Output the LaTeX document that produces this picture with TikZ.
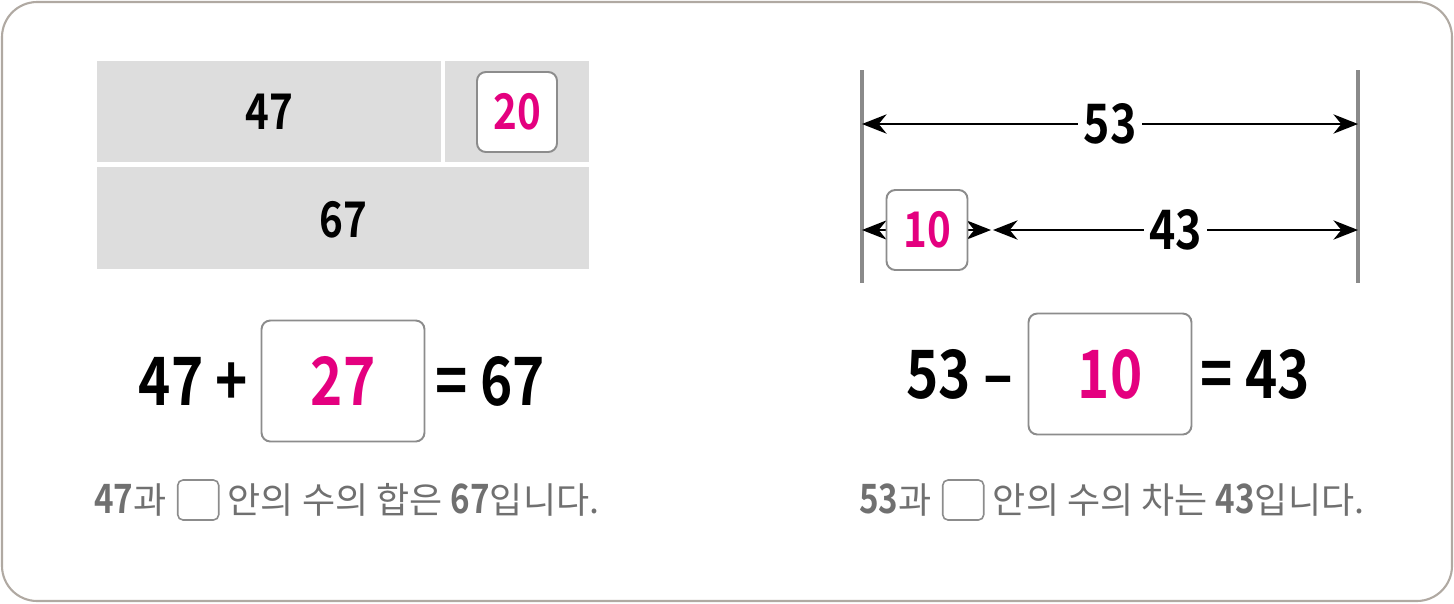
\documentclass[tikz,border=0pt]{standalone}
\usepackage{fontspec}
\setmainfont{Noto Sans CJK KR}[BoldFont=* Bold, BoldFeatures={FakeStretch=0.82}]
\usepackage{xcolor}
\usetikzlibrary{positioning, arrows.meta}
\definecolor{barfill}{HTML}{DDDDDD}
\definecolor{answer}{HTML}{E4007F}
\definecolor{framegray}{HTML}{B0A9A2}
\definecolor{boxgray}{HTML}{8C8C8C}
\definecolor{textgray}{HTML}{707070}
\definecolor{rulegray}{HTML}{8A8A8A}

\begin{document}
\begin{tikzpicture}[x=0.02cm, y=-0.02cm,
    barlabel/.style={font=\fontsize{28}{30}\selectfont\bfseries, inner sep=0pt},
    ansbox/.style={draw=boxgray, line width=1.1pt, fill=white, rounded corners=5pt, inner sep=0pt,
      text=answer, font=\fontsize{28}{30}\selectfont\bfseries},
    bigbox/.style={ansbox, minimum width=3.26cm, minimum height=2.42cm, font=\fontsize{38}{40}\selectfont\bfseries},
    eqtext/.style={font=\fontsize{38}{40}\selectfont\bfseries, inner sep=0pt},
    sent/.style={text=textgray, font=\fontsize{20.5}{24}\selectfont, inner sep=0pt},
    tinybox/.style={draw=boxgray, line width=0.9pt, rounded corners=3pt, minimum width=0.82cm, minimum height=0.8cm, inner sep=0pt},
    dimline/.style={line width=1.1pt, {Stealth[length=14pt, width=11pt, inset=4.5pt]}-{Stealth[length=14pt, width=11pt, inset=4.5pt]}},
    endrule/.style={rulegray, line width=2.3pt}]
  \useasboundingbox (0,0) rectangle (1454,603);
  \draw[framegray, line width=1.2pt, rounded corners=20pt] (2,2) rectangle (1452,601);

  % Bar model (left)
  \fill[barfill] (97,61) rectangle (441,162);
  \fill[barfill] (445,61) rectangle (589,162);
  \fill[barfill] (97,167) rectangle (589,269);
  \node[barlabel] (part47) at (269,112) {47};
  \node[ansbox, minimum width=1.6cm, minimum height=1.6cm] (part20) at (517,112) {20};
  \node[barlabel] (whole67) at (343,220) {67};

  % Equation (left)
  \node[bigbox] (addbox) at (343,381) {27};
  \node[eqtext, left=0.24cm of addbox] (addleft) {47 +};
  \node[eqtext, right=0.2cm of addbox] (addright) {= 67};

  % Sentence (left)
  \node[sent, anchor=west] (sumA) at (94,500) {\textbf{\fontsize{23}{24}\selectfont 47}과};
  \node[tinybox, right=0.2cm of sumA] (sumbox) {};
  \node[sent, right=0.16cm of sumbox] (sumB) {안의 수의 합은 \textbf{\fontsize{23}{24}\selectfont 67}입니다.};

  % Number line model (right)
  \coordinate (ruleLtop) at (862,70);
  \coordinate (ruleLbot) at (862,283);
  \coordinate (ruleRtop) at (1358,70);
  \coordinate (ruleRbot) at (1358,283);
  \draw[endrule] (ruleLtop) -- (ruleLbot);
  \draw[endrule] (ruleRtop) -- (ruleRbot);

  \coordinate (fullL) at (862,124);
  \coordinate (fullR) at (1358,124);
  \draw[dimline] (fullL) -- (fullR)
    node[midway, fill=white, inner xsep=3pt, inner ysep=0pt, font=\fontsize{31}{34}\selectfont\bfseries] (len53) {53};

  \coordinate (partL) at (862,230);
  \coordinate (partM) at (991,230);
  \coordinate (partN) at (993,230);
  \coordinate (partR) at (1358,230);
  \draw[dimline] (partL) -- (partM);
  \draw[dimline] (partN) -- (partR)
    node[pos=0.5, fill=white, inner xsep=3pt, inner ysep=0pt, font=\fontsize{31}{34}\selectfont\bfseries] (len43) {43};
  \node[ansbox, minimum width=1.62cm, minimum height=1.6cm] (part10) at (927,230) {10};

  % Equation (right)
  \node[bigbox] (subbox) at (1110,374) {10};
  \node[eqtext, left=0.28cm of subbox] (subleft) {53 –};
  \node[eqtext, right=0.16cm of subbox] (subright) {= 43};

  % Sentence (right)
  \node[sent, anchor=west] (diffA) at (859,500) {\textbf{\fontsize{23}{24}\selectfont 53}과};
  \node[tinybox, right=0.2cm of diffA] (diffbox) {};
  \node[sent, right=0.16cm of diffbox] (diffB) {안의 수의 차는 \textbf{\fontsize{23}{24}\selectfont 43}입니다.};
\end{tikzpicture}
\end{document}
